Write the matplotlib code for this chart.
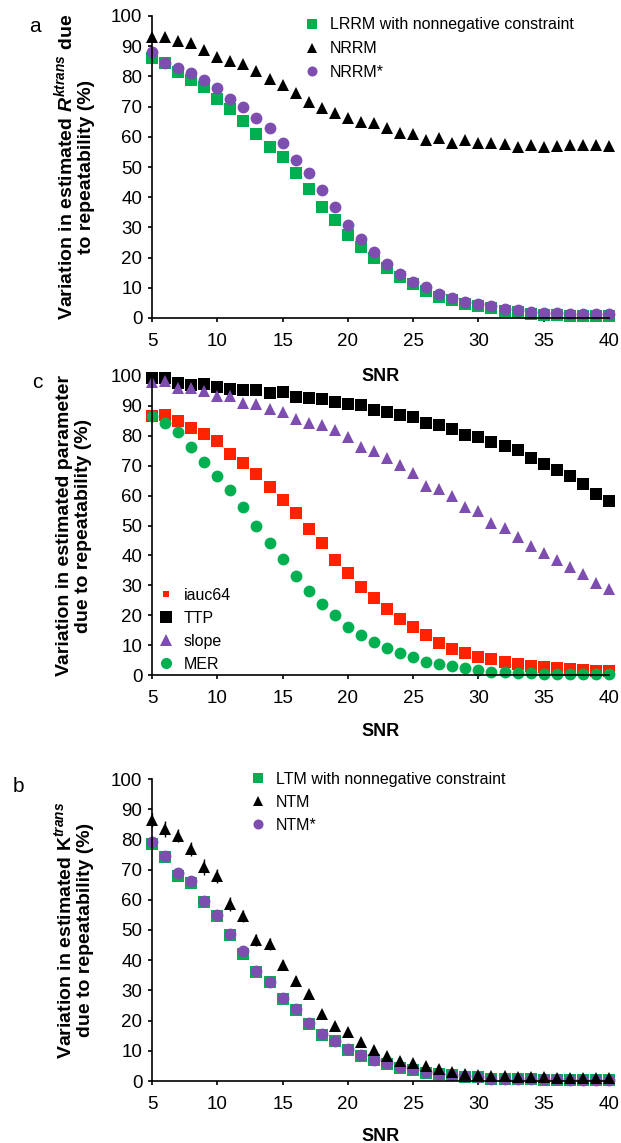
import matplotlib
matplotlib.use("Agg")
import matplotlib.pyplot as plt
from matplotlib.lines import Line2D

plt.rcParams["font.family"] = ["Liberation Sans", "DejaVu Sans"]
plt.rcParams["mathtext.fontset"] = "custom"
plt.rcParams["mathtext.rm"] = "Liberation Sans:bold"
plt.rcParams["mathtext.it"] = "Liberation Sans:bold:italic"
plt.rcParams["mathtext.bf"] = "Liberation Sans:bold"

GREEN = "#00B050"
PURPLE = "#7E4DB0"
RED = "#FF2200"
BLACK = "#000000"

snr = [5, 6, 7, 8, 9, 10, 11, 12, 13, 14, 15, 16, 17, 18, 19, 20, 21, 22,
       23, 24, 25, 26, 27, 28, 29, 30, 31, 32, 33, 34, 35, 36, 37, 38, 39, 40]

# panel a
lrrm = [86.0, 84.3, 81.6, 78.8, 76.4, 72.4, 69.1, 65.3, 60.9, 56.7, 53.2, 47.9,
        42.6, 36.9, 32.5, 27.5, 23.4, 19.8, 16.4, 13.5, 11.3, 9.1, 7.1, 6.0,
        4.6, 4.0, 3.2, 2.4, 1.9, 1.3, 1.0, 0.9, 0.8, 0.7, 0.6, 0.5]
nrrm = [93.2, 93.0, 91.8, 91.0, 88.7, 86.5, 85.0, 84.0, 81.8, 79.0, 77.0, 74.4,
        71.6, 69.4, 67.8, 66.1, 65.0, 64.5, 62.8, 61.4, 60.8, 58.9, 59.5, 58.0,
        58.9, 58.0, 58.0, 57.5, 56.7, 57.2, 56.7, 57.0, 57.4, 57.3, 57.3, 57.0]
nrrm_star = [88.0, 84.3, 82.9, 81.0, 78.8, 76.0, 72.6, 70.0, 66.1, 63.0, 57.8, 52.3,
             47.9, 42.4, 36.9, 30.8, 26.3, 22.0, 17.9, 14.6, 12.0, 10.2, 7.9, 6.5,
             5.2, 4.5, 4.0, 2.9, 2.6, 2.0, 1.8, 1.5, 1.3, 1.2, 1.2, 1.2]

# panel c
iauc64 = [86.6, 86.9, 85.0, 82.5, 80.6, 78.4, 73.8, 70.8, 67.2, 63.0, 58.5, 54.3,
          48.7, 44.0, 38.5, 34.0, 29.5, 25.9, 22.0, 18.6, 16.2, 13.3, 10.8, 8.8,
          7.5, 6.1, 5.2, 4.5, 3.7, 3.1, 2.7, 2.2, 1.9, 1.7, 1.4, 1.4]
ttp = [99.2, 99.2, 97.8, 97.0, 97.3, 96.4, 95.8, 95.3, 95.3, 94.2, 94.5, 92.9,
       92.5, 92.2, 91.4, 90.8, 90.3, 88.6, 88.1, 87.0, 86.4, 84.2, 83.6, 82.3,
       80.3, 79.7, 78.0, 76.6, 75.3, 72.5, 70.6, 68.6, 66.7, 63.9, 60.6, 58.3]
slope = [98.0, 98.4, 95.9, 96.1, 95.1, 93.3, 93.3, 91.1, 90.6, 88.9, 87.9, 85.5,
         84.4, 83.6, 82.0, 79.7, 76.4, 75.0, 72.5, 70.2, 67.5, 63.2, 62.2, 59.7,
         56.1, 55.0, 51.0, 49.1, 46.3, 43.0, 40.7, 38.5, 36.0, 33.8, 30.9, 28.7]
mer = [86.6, 84.2, 81.4, 76.4, 71.1, 66.7, 61.9, 56.1, 49.9, 44.0, 38.8, 33.1,
       28.1, 23.7, 20.1, 16.2, 13.4, 10.9, 8.9, 7.2, 6.1, 4.5, 3.7, 3.1,
       2.2, 1.7, 1.1, 1.0, 0.8, 0.6, 0.3, 0.3, 0.3, 0.3, 0.3, 0.3]

# panel b
ltm = [78.5, 74.3, 67.8, 65.5, 59.4, 54.8, 48.5, 42.2, 36.2, 32.8, 27.3, 23.6,
       18.9, 15.3, 13.2, 10.4, 8.2, 6.8, 5.6, 4.4, 3.7, 2.8, 2.3, 1.9,
       1.4, 1.2, 0.8, 0.7, 0.6, 0.5, 0.4, 0.4, 0.3, 0.3, 0.2, 0.2]
ntm = [86.5, 83.4, 81.2, 76.8, 70.8, 67.9, 58.6, 54.6, 46.7, 45.4, 38.4, 33.2,
       28.8, 22.3, 18.1, 16.3, 12.9, 10.2, 8.2, 6.6, 5.8, 4.9, 4.1, 3.0,
       2.4, 2.1, 1.8, 1.6, 1.4, 1.3, 1.2, 1.1, 1.0, 1.0, 0.9, 0.9]
ntm_err = [2.4, 2.6, 2.1, 2.4, 2.6, 2.2, 2.2, 2.1, 2.0, 1.9, 1.7, 1.5,
           1.4, 1.3, 1.2, 1.1, 1.0, 0.9, 0.8, 0.7, 0.6, 0.5, 0.5, 0.4,
           0.4, 0.3, 0.3, 0.3, 0.3, 0.2, 0.2, 0.2, 0.2, 0.2, 0.2, 0.2]
ntm_star = [79.2, 74.6, 68.9, 66.1, 59.7, 55.1, 48.8, 42.9, 36.5, 32.7, 27.6, 24.0,
            19.2, 15.6, 13.4, 10.6, 8.5, 7.1, 5.8, 4.7, 3.9, 3.0, 2.4, 2.1,
            1.6, 1.3, 0.8, 0.7, 0.6, 0.6, 0.5, 0.5, 0.4, 0.4, 0.3, 0.3]

W, H = 621, 1143
fig = plt.figure(figsize=(W / 100, H / 100), dpi=100)

TICK_FS = 13.5
LEG_FS = 11.5


def make_axes(top_px, bottom_px):
    ax = fig.add_axes([152 / W, 1 - bottom_px / H, (609 - 152) / W, (bottom_px - top_px) / H])
    ax.patch.set_visible(False)
    ax.set_xlim(5, 40)
    ax.set_ylim(0, 100)
    ax.set_xticks([5, 10, 15, 20, 25, 30, 35, 40])
    ax.set_yticks(range(0, 101, 10))
    for s in ["top", "right"]:
        ax.spines[s].set_visible(False)
    for s in ["left", "bottom"]:
        ax.spines[s].set_linewidth(1.2)
    ax.tick_params(direction="out", length=3, width=1.2, labelsize=TICK_FS)
    ax.tick_params(axis="x", pad=8)
    ax.tick_params(axis="y", pad=4)
    ax.set_xlabel("SNR", fontsize=13, fontweight="bold")
    return ax


def ylabel(text, top_px, bottom_px):
    fig.text(74 / W, 1 - (top_px + bottom_px) / 2 / H, text, rotation=90,
             ha="center", va="center", fontsize=14, fontweight="bold",
             multialignment="center", linespacing=1.15)


def add_legend(ax, handles, labels, x_px, y_px, scale=None, spacing=0.5):
    kw = dict(loc="upper left", bbox_to_anchor=(x_px / W, 1 - y_px / H),
              bbox_transform=fig.transFigure, frameon=False, fontsize=LEG_FS,
              handlelength=1.0, handletextpad=0.6, labelspacing=spacing,
              borderpad=0, borderaxespad=0)
    if scale:
        kw["markerscale"] = scale
    ax.legend(handles, labels, **kw)


mk = dict(linestyle="none", markeredgewidth=0, clip_on=False)

# ---- panel a
ax_a = make_axes(16, 318)
ax_a.xaxis.set_label_coords(0.5, -0.165)
h1, = ax_a.plot(snr, lrrm, marker="s", markersize=8.5, color=GREEN, **mk)
h2, = ax_a.plot(snr, nrrm, marker="^", markersize=8.5, color=BLACK, **mk)
h3, = ax_a.plot(snr, nrrm_star, marker="o", markersize=8.5, color=PURPLE, **mk)
add_legend(ax_a, [h1, h2, h3], ["LRRM with nonnegative constraint", "NRRM", "NRRM*"],
           304, 17.5, scale=0.85, spacing=0.55)
ylabel("Variation in estimated $R^{ktrans}$ due\nto repeatability (%)", 16, 318)
fig.text(35 / W, 1 - 27 / H, "a", fontsize=15, ha="center", va="center")

# ---- panel c
ax_c = make_axes(376, 675)
ax_c.xaxis.set_label_coords(0.5, -0.16)
ax_c.plot(snr, ttp, marker="s", markersize=9, color=BLACK, **mk)
ax_c.plot(snr, slope, marker="^", markersize=8.5, color=PURPLE, **mk)
ax_c.plot(snr, iauc64, marker="s", markersize=9, color=RED, **mk)
ax_c.plot(snr, mer, marker="o", markersize=8.5, color=GREEN, **mk)
handles_c = [
    Line2D([], [], linestyle="none", marker="s", markersize=5, color=RED, markeredgewidth=0),
    Line2D([], [], linestyle="none", marker="s", markersize=8.5, color=BLACK, markeredgewidth=0),
    Line2D([], [], linestyle="none", marker="^", markersize=8, color=PURPLE, markeredgewidth=0),
    Line2D([], [], linestyle="none", marker="o", markersize=8, color=GREEN, markeredgewidth=0),
]
add_legend(ax_c, handles_c, ["iauc64", "TTP", "slope", "MER"], 158, 588)
ylabel("Variation in estimated parameter\ndue to repeatability (%)", 376, 675)
fig.text(37 / W, 1 - 383 / H, "c", fontsize=15, ha="center", va="center")

# ---- panel b
ax_b = make_axes(779, 1081)
ax_b.xaxis.set_label_coords(0.5, -0.155)
g1, = ax_b.plot(snr, ltm, marker="s", markersize=8.5, color=GREEN, **mk)
g2 = ax_b.errorbar(snr, ntm, yerr=ntm_err, fmt="^", markersize=8.5, color=BLACK,
                   ecolor=BLACK, elinewidth=1, capsize=3.5, capthick=1,
                   markeredgewidth=0, clip_on=False)
g3, = ax_b.plot(snr, ntm_star, marker="o", markersize=8.5, color=PURPLE, **mk)
add_legend(ax_b, [g1, g2[0], g3], ["LTM with nonnegative constraint", "NTM", "NTM*"],
           250, 772, scale=0.85)
ylabel("Variation in estimated $\\mathrm{K}^{trans}$\ndue to repeatability (%)", 779, 1081)
fig.text(18 / W, 1 - 787 / H, "b", fontsize=15, ha="center", va="center")

fig.savefig("out.png", dpi=100)
